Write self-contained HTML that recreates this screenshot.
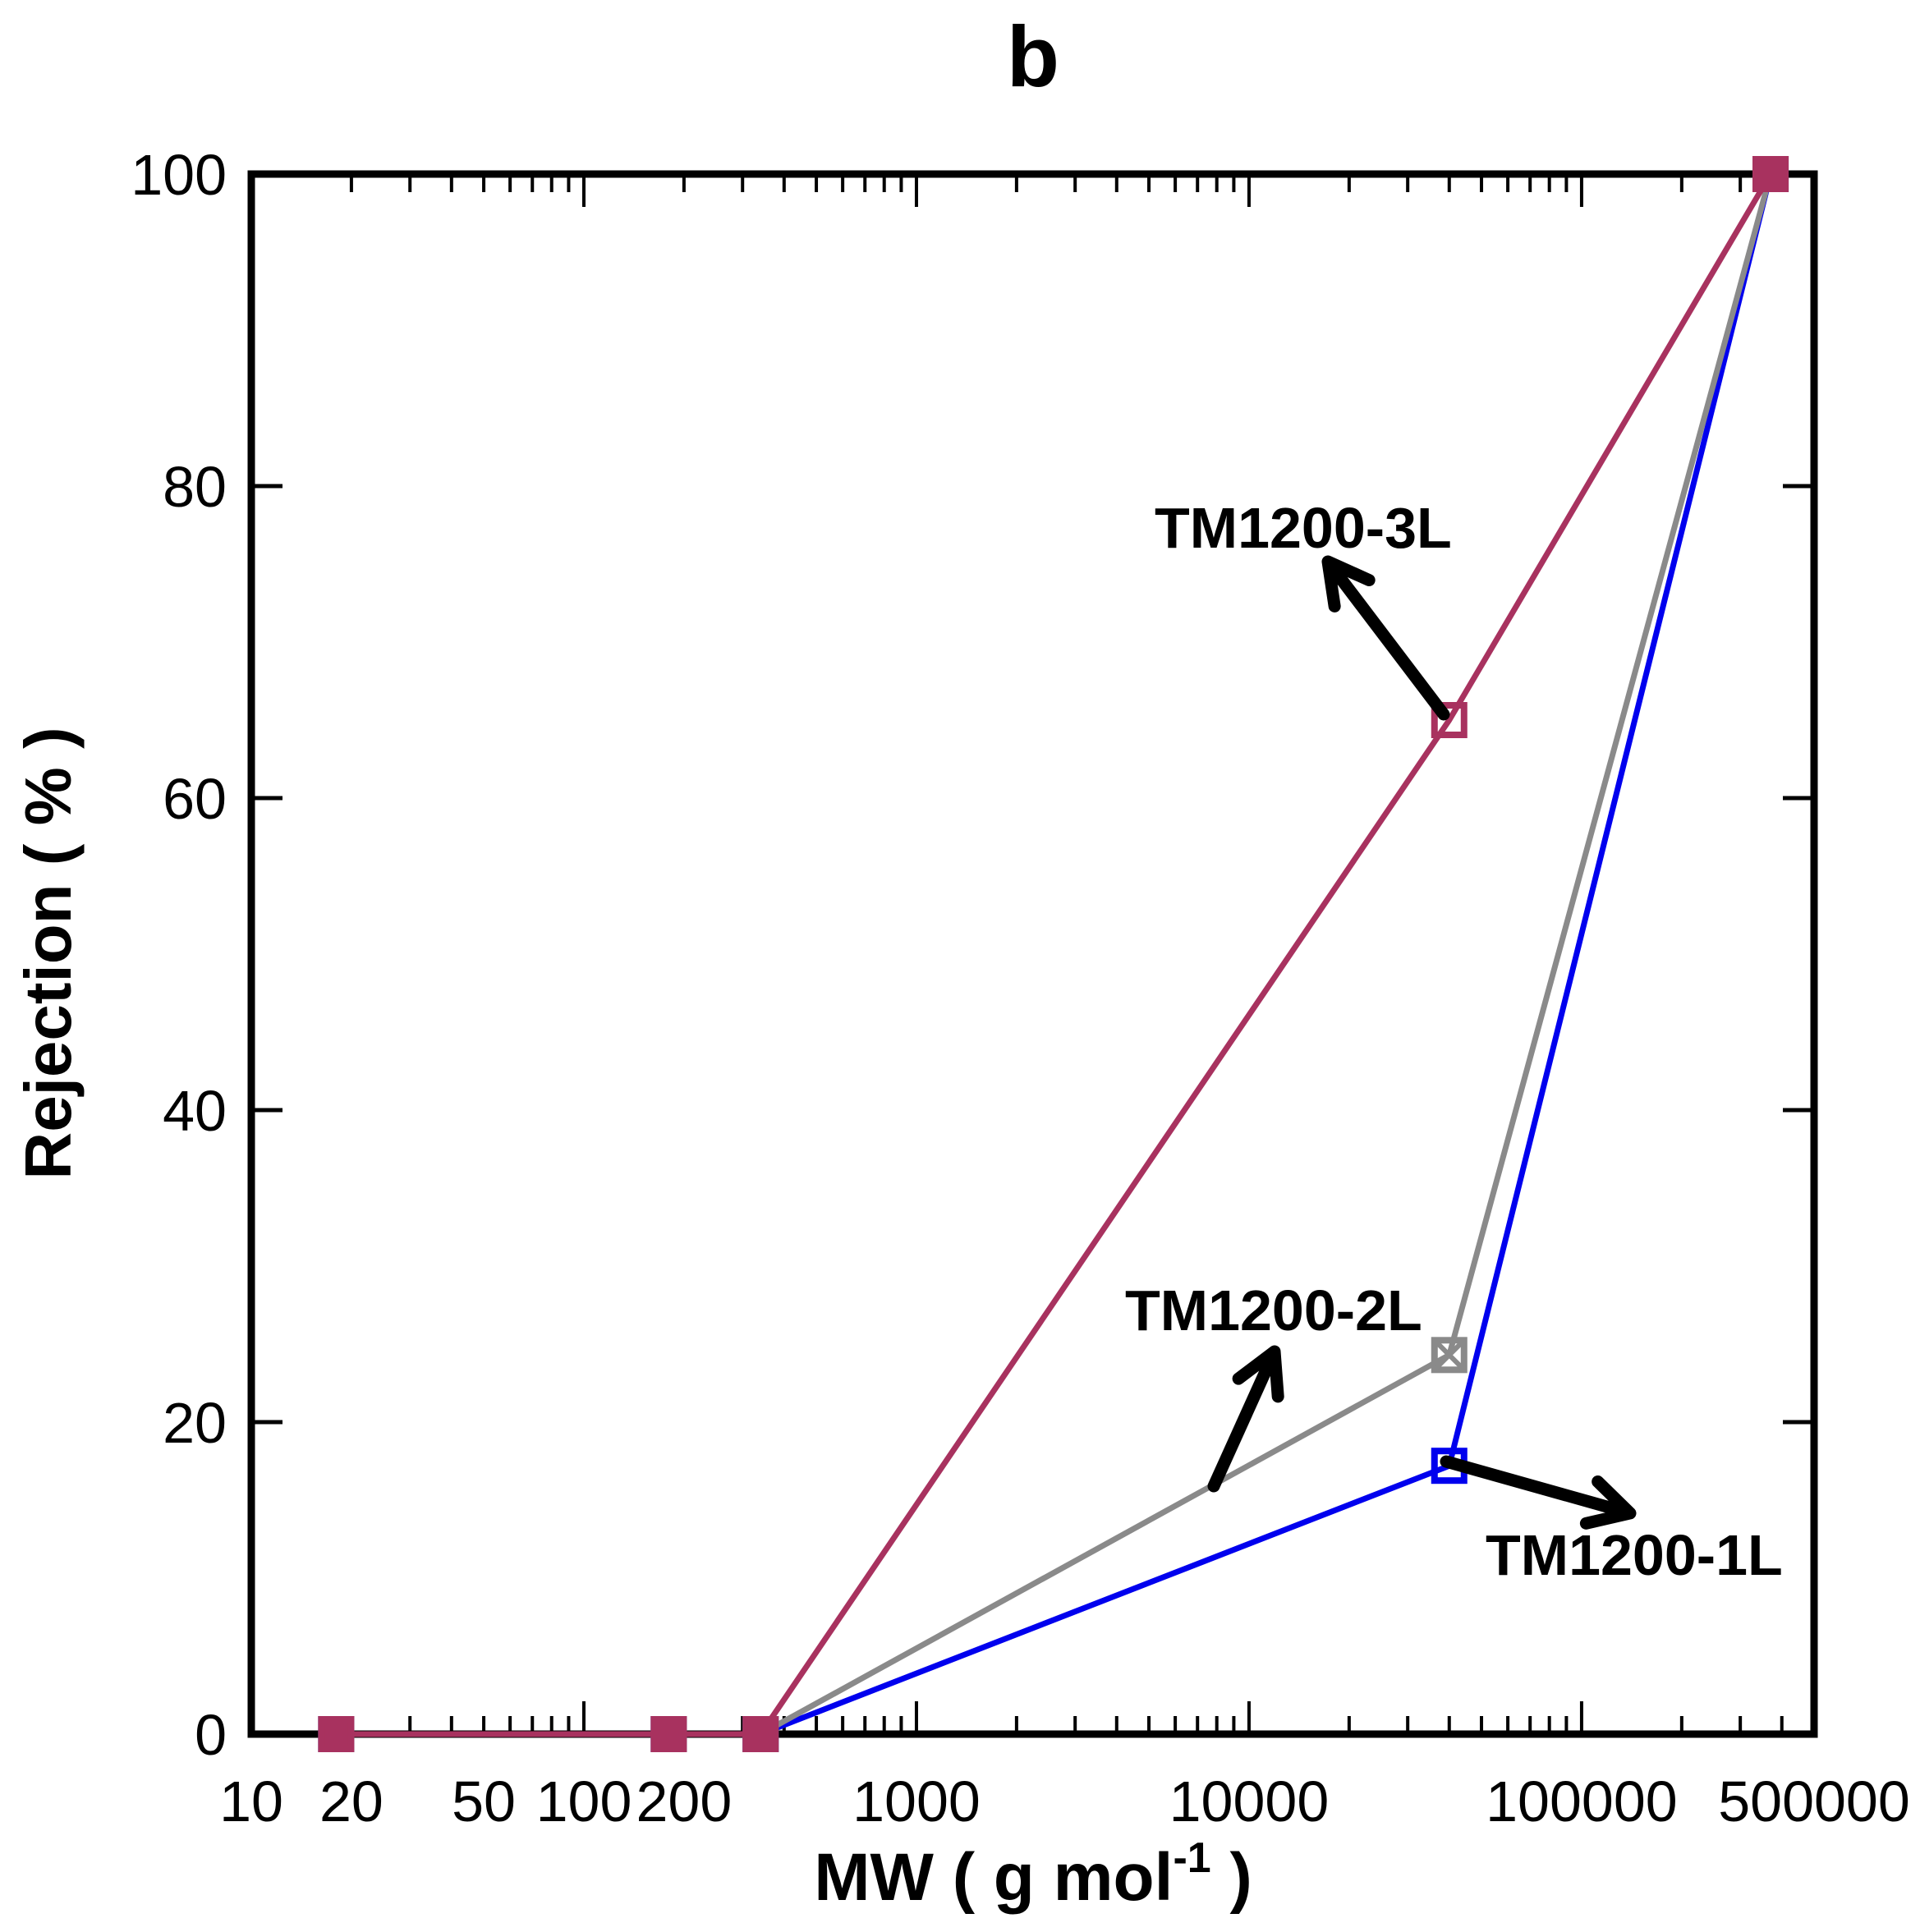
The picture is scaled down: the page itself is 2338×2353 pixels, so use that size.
<!DOCTYPE html>
<html><head><meta charset="utf-8"><style>
html,body{margin:0;padding:0;background:#fff;}
svg{display:block;font-family:"Liberation Sans",Arial,sans-serif;}
</style></head><body>
<svg id="chart" width="2338" height="2353" viewBox="0 0 2338 2353" xmlns="http://www.w3.org/2000/svg">
<text x="1258" y="105" font-size="105" font-weight="bold" text-anchor="middle">b</text>
<g id="grid"></g>
<g id="series"></g>
<g id="annot"></g>
<text transform="translate(86,1161) rotate(-90)" font-size="80" font-weight="bold" text-anchor="middle">Rejection ( % )</text>
<text x="1258" y="2314" font-size="82" font-weight="bold" text-anchor="middle">MW ( g mol<tspan dy="-34" font-size="52">-1</tspan><tspan dy="34"> )</tspan></text>
</svg>
<script>
const xCategories = [18, 180, 340, 40000, 370000];
const series3L = [0, 0, 0, 65, 100];
const series2L = [0, 0, 0, 24.3, 100];
const series1L = [0, 0, 0, 17.2, 100];
const xTickValues = [10, 20, 50, 100, 200, 1000, 10000, 100000, 500000];
const xTickLabels = ["10", "20", "50", "100", "200", "1000", "10000", "100000", "500000"];
const yTickValues = [0, 20, 40, 60, 80, 100];

const NS = "http://www.w3.org/2000/svg";
const L = 306, R = 2209, T = 212, B = 2112;
const xMin = 10, xMax = 500000;
function xs(v){ return L + (Math.log10(v) - Math.log10(xMin)) / (Math.log10(xMax) - Math.log10(xMin)) * (R - L); }
function ys(v){ return B - v / 100 * (B - T); }
function mk(tag, attrs, parent){ const e = document.createElementNS(NS, tag); for (const k in attrs) e.setAttribute(k, attrs[k]); parent.appendChild(e); return e; }

const grid = document.getElementById('grid');
for (let d = 1; d <= 5; d++) {
  for (let m = 1; m <= 9; m++) {
    const v = m * Math.pow(10, d);
    if (v > xMax || (m === 1 && d === 1)) continue;
    const x = xs(v), len = m === 1 ? 40 : 22;
    const t1 = mk('line', {x1:x, y1:B, x2:x, y2:B-len, stroke:'#000', 'stroke-width':4}, grid);
    
    
    const t2 = mk('line', {x1:x, y1:T, x2:x, y2:T+len, stroke:'#000', 'stroke-width':4}, grid);
    
    
  }
}
xTickValues.forEach((v, i) => {
  const t = mk('text', {x:xs(v), y:2218, 'font-size':70, 'text-anchor':'middle'}, grid);
  t.textContent = xTickLabels[i];
  
  
});
yTickValues.forEach(v => {
  const y = ys(v);
  const a = mk('line', {x1:L, y1:y, x2:L+38, y2:y, stroke:'#000', 'stroke-width':5}, grid);
  
  
  const b = mk('line', {x1:R, y1:y, x2:R-38, y2:y, stroke:'#000', 'stroke-width':5}, grid);
  
  
  const t = mk('text', {x:276, y:y+25, 'font-size':70, 'text-anchor':'end'}, grid);
  t.textContent = String(v);
  
  
});
const frame = mk('rect', {x:L, y:T, width:R-L, height:B-T, fill:'none', stroke:'#000', 'stroke-width':9}, grid);



const sg = document.getElementById('series');
function drawSeries(vals, color, name, cross){
  const pts = xCategories.map((c, i) => xs(c) + ',' + ys(vals[i])).join(' ');
  const pl = mk('polyline', {points:pts, fill:'none', stroke:color, 'stroke-width':7, 'stroke-linejoin':'round'}, sg);
  
  
  xCategories.forEach((c, i) => {
    const x = xs(c), y = ys(vals[i]);
    const shared = series1L[i] === series2L[i] && series2L[i] === series3L[i];
    const r = mk('rect', {x:x-18, y:y-18, width:36, height:36, fill: shared ? color : 'none', stroke:color, 'stroke-width':8}, sg);
    
    
    if (cross && !shared) {
      const p = mk('path', {d:`M${x-16},${y-16}L${x+16},${y+16}M${x+16},${y-16}L${x-16},${y+16}`, stroke:color, 'stroke-width':6}, sg);
      
      
    }
  });
}
drawSeries(series1L, '#0000ee', 'tm1200-1l', false);
drawSeries(series2L, '#8a8a8a', 'tm1200-2l', true);
drawSeries(series3L, '#a8325f', 'tm1200-3l', false);

const ag = document.getElementById('annot');
function arrow(x1, y1, x2, y2, name){
  const ang = Math.atan2(y2 - y1, x2 - x1), h = 55, s = 0.5;
  const d = `M${x1},${y1}L${x2},${y2}M${x2 - h*Math.cos(ang - s)},${y2 - h*Math.sin(ang - s)}L${x2},${y2}L${x2 - h*Math.cos(ang + s)},${y2 - h*Math.sin(ang + s)}`;
  const p = mk('path', {d:d, fill:'none', stroke:'#000', 'stroke-width':15, 'stroke-linecap':'round', 'stroke-linejoin':'round'}, ag);
  
  
}
function label(x, y, txt, name){
  const t = mk('text', {x:x, y:y, 'font-size':70, 'font-weight':'bold'}, ag);
  t.textContent = txt;
  
  
}
arrow(1758, 870, 1617, 684, 'tm1200-3l-arrow');
label(1406, 667, 'TM1200-3L', 'tm1200-3l-label');
arrow(1478, 1810, 1552, 1646, 'tm1200-2l-arrow');
label(1370, 1620, 'TM1200-2L', 'tm1200-2l-label');
arrow(1761, 1780, 1985, 1843, 'tm1200-1l-arrow');
label(1809, 1918, 'TM1200-1L', 'tm1200-1l-label');
</script>
</body></html>
